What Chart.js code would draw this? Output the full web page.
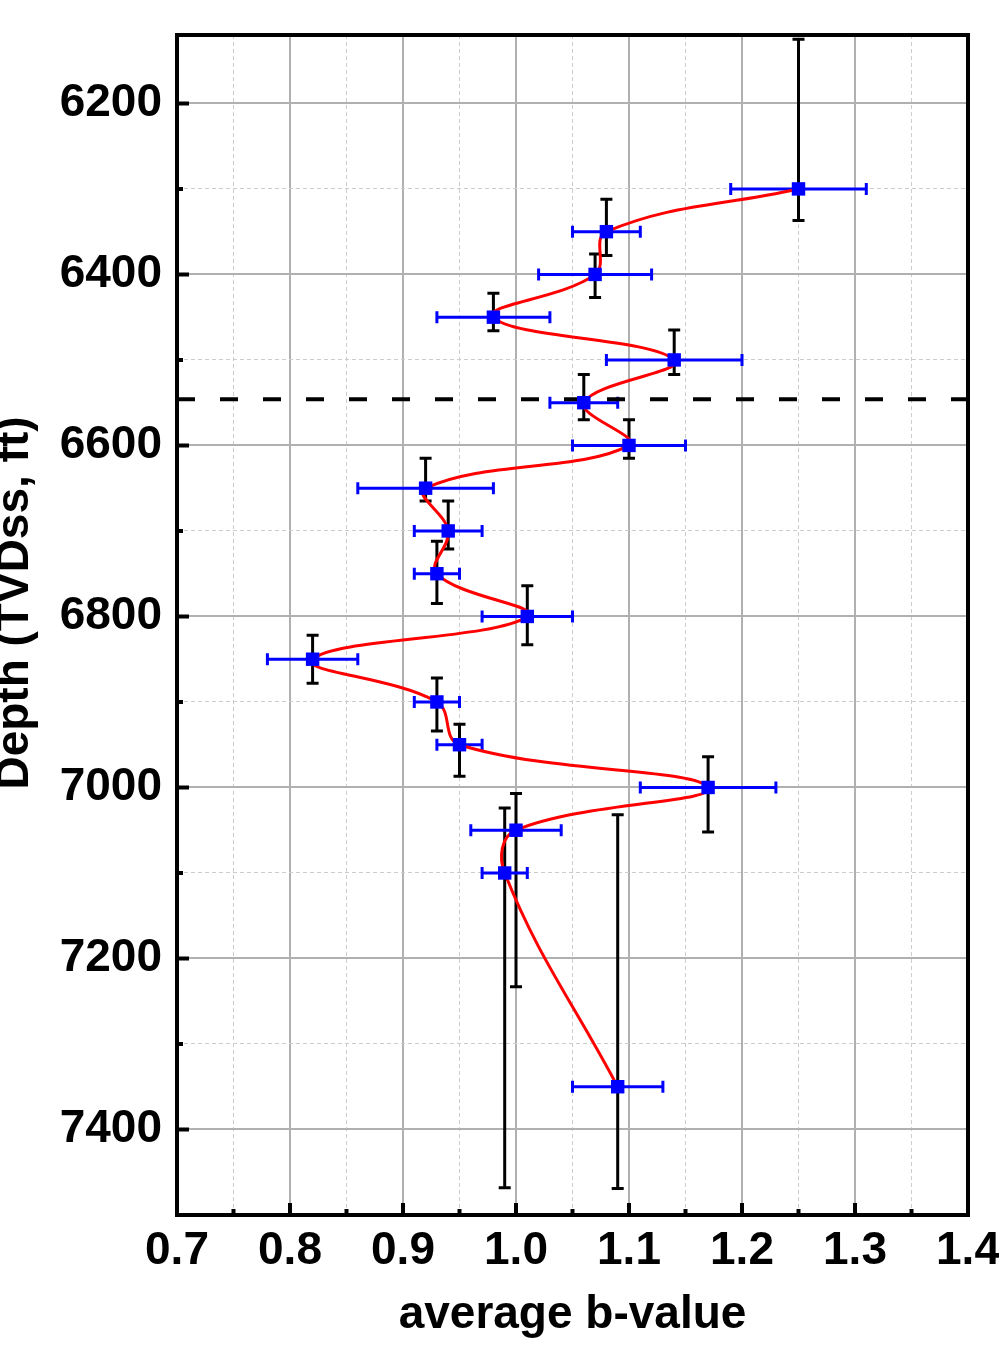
<!DOCTYPE html>
<html>
<head>
<meta charset="utf-8">
<script src="https://cdn.jsdelivr.net/npm/chart.js@4.4.0/dist/chart.umd.min.js"></script>
<style>
  html, body { margin: 0; padding: 0; background: #fff; overflow: hidden; }
  #wrap { position: absolute; left: -16px; top: 0; width: 1055px; height: 1355px; }
</style>
</head>
<body>
<div id="wrap"><canvas id="chart" width="1055" height="1355"></canvas></div>
<script>
// Average b-value against depth, with depth-window (black) and b-value (blue) error bars

const depth       = [6300, 6350, 6400, 6450, 6500, 6550, 6600, 6650, 6700, 6750, 6800, 6850, 6900, 6950, 7000, 7050, 7100, 7350];
const bValue      = [1.25, 1.08, 1.07, 0.98, 1.14, 1.06, 1.10, 0.92, 0.94, 0.93, 1.01, 0.82, 0.93, 0.95, 1.17, 1.00, 0.99, 1.09];
const bError      = [0.06, 0.03, 0.05, 0.05, 0.06, 0.03, 0.05, 0.06, 0.03, 0.02, 0.04, 0.04, 0.02, 0.02, 0.06, 0.04, 0.02, 0.04];
const depthTop    = [6125, 6312, 6376, 6422, 6465, 6517, 6570, 6615, 6665, 6712, 6764, 6822, 6872, 6926, 6964, 7007, 7024, 7032];
const depthBottom = [6337, 6378, 6427, 6466, 6517, 6570, 6615, 6665, 6721, 6785, 6833, 6878, 6934, 6987, 7052, 7233, 7468, 7469];

const markerDepth = 6546; // dashed horizon line

const xMin = 0.7, xMax = 1.4;
const yMin = 6120, yMax = 7500;
const xTickLabels = ['0.7', '0.8', '0.9', '1.0', '1.1', '1.2', '1.3', '1.4'];
const yTickLabels = ['6200', '6400', '6600', '6800', '7000', '7200', '7400'];
const xTitle = 'average b-value';
const yTitle = 'Depth (TVDss, ft)';

const FONT = { family: "'Liberation Sans', Arial, sans-serif", size: 46, weight: 'bold' };

const points = depth.map((d, i) => ({ x: bValue[i], y: d }));

function labelFor(list, value) {
    const hit = list.find(l => Math.abs(parseFloat(l) - value) < 1e-6);
    return hit || '';
}

// --- plugins ---

const errorBars = {
    id: 'errorBars',
    beforeDatasetsDraw(chart) {
        const { ctx, scales: { x, y } } = chart;
        const cap = 6;
        ctx.save();
        ctx.lineWidth = 3;

        // depth window
        ctx.strokeStyle = '#000000';
        ctx.beginPath();
        depth.forEach((d, i) => {
            const px = x.getPixelForValue(bValue[i]);
            const t = y.getPixelForValue(depthTop[i]);
            const b = y.getPixelForValue(depthBottom[i]);
            ctx.moveTo(px, t); ctx.lineTo(px, b);
            ctx.moveTo(px - cap, t); ctx.lineTo(px + cap, t);
            ctx.moveTo(px - cap, b); ctx.lineTo(px + cap, b);
        });
        ctx.stroke();

        // b-value uncertainty
        ctx.strokeStyle = '#0000ff';
        ctx.beginPath();
        depth.forEach((d, i) => {
            const py = y.getPixelForValue(d);
            const l = x.getPixelForValue(bValue[i] - bError[i]);
            const r = x.getPixelForValue(bValue[i] + bError[i]);
            ctx.moveTo(l, py); ctx.lineTo(r, py);
            ctx.moveTo(l, py - cap); ctx.lineTo(l, py + cap);
            ctx.moveTo(r, py - cap); ctx.lineTo(r, py + cap);
        });
        ctx.stroke();
        ctx.restore();
    }
};

// box frame, inward tick marks on the left/bottom axes, rotated depth title
const frame = {
    id: 'frame',
    afterDraw(chart) {
        const { ctx, chartArea: a, scales: { x, y } } = chart;
        ctx.save();
        ctx.strokeStyle = '#000000';
        ctx.lineWidth = 4;
        ctx.beginPath();
        x.ticks.forEach(t => {
            const px = x.getPixelForValue(t.value);
            const len = t.label ? 12 : 6;
            ctx.moveTo(px, a.bottom); ctx.lineTo(px, a.bottom - len);
        });
        y.ticks.forEach(t => {
            const py = y.getPixelForValue(t.value);
            const len = t.label ? 12 : 6;
            ctx.moveTo(a.left, py); ctx.lineTo(a.left + len, py);
        });
        ctx.stroke();
        ctx.strokeRect(a.left, a.top, a.right - a.left, a.bottom - a.top);

        ctx.fillStyle = '#000000';
        ctx.font = `${FONT.weight} ${FONT.size}px ${FONT.family}`;
        ctx.textAlign = 'center';
        ctx.textBaseline = 'alphabetic';
        ctx.translate(y.left + 44, (a.top + a.bottom) / 2 - 22);
        ctx.rotate(-Math.PI / 2);
        ctx.fillText(yTitle, 0, 0);
        ctx.restore();
    }
};

// --- chart ---

const gridColor = (list) => (c) => labelFor(list, c.tick.value) ? '#b0b0b0' : '#cccccc';
const gridWidth = (list) => (c) => labelFor(list, c.tick.value) ? 2 : 1;
const gridDash  = (list) => (c) => labelFor(list, c.tick.value) ? [] : [4, 3];

new Chart(document.getElementById('chart'), {
    type: 'scatter',
    data: {
        datasets: [
            {
                label: 'b-value',
                data: points,
                pointStyle: 'rect',
                pointRadius: 9.5,
                pointBackgroundColor: '#0000ff',
                pointBorderWidth: 0,
                showLine: false,
                order: 0
            },
            {
                label: 'spline',
                data: points,
                showLine: true,
                borderColor: '#ff0000',
                borderWidth: 3,
                tension: 0.4,
                pointRadius: 0,
                order: 1
            },
            {
                label: 'horizon',
                data: [{ x: xMin, y: markerDepth }, { x: xMax, y: markerDepth }],
                showLine: true,
                borderColor: '#000000',
                borderWidth: 4,
                borderDash: [18, 25],
                pointRadius: 0,
                order: 2
            }
        ]
    },
    options: {
        responsive: false,
        animation: false,
        events: [],
        layout: { padding: { left: 0, right: 71, top: 35, bottom: 0 } },
        plugins: { legend: { display: false }, tooltip: { enabled: false } },
        scales: {
            x: {
                type: 'linear',
                min: xMin,
                max: xMax,
                afterFit: s => { s.height = 140; },
                ticks: {
                    stepSize: 0.05,
                    precision: 2,
                    autoSkip: false,
                    maxRotation: 0,
                    minRotation: 0,
                    padding: 9,
                    color: '#000000',
                    font: FONT,
                    callback: v => labelFor(xTickLabels, v)
                },
                grid: { drawTicks: false, color: gridColor(xTickLabels), lineWidth: gridWidth(xTickLabels) },
                border: { display: false, dash: gridDash(xTickLabels) },
                title: { display: true, text: xTitle, color: '#000000', font: FONT, padding: { top: 0, bottom: 12 } }
            },
            y: {
                type: 'linear',
                reverse: true,
                min: yMin,
                max: yMax,
                afterFit: s => { s.width = 193; s.paddingTop = 0; s.paddingBottom = 0; },
                ticks: {
                    stepSize: 100,
                    includeBounds: false,
                    autoSkip: false,
                    padding: 15,
                    color: '#000000',
                    font: FONT,
                    callback: v => labelFor(yTickLabels, v)
                },
                grid: { drawTicks: false, color: gridColor(yTickLabels), lineWidth: gridWidth(yTickLabels) },
                border: { display: false, dash: gridDash(yTickLabels) },
                title: { display: false }
            }
        }
    },
    plugins: [errorBars, frame]
});
</script>
</body>
</html>
